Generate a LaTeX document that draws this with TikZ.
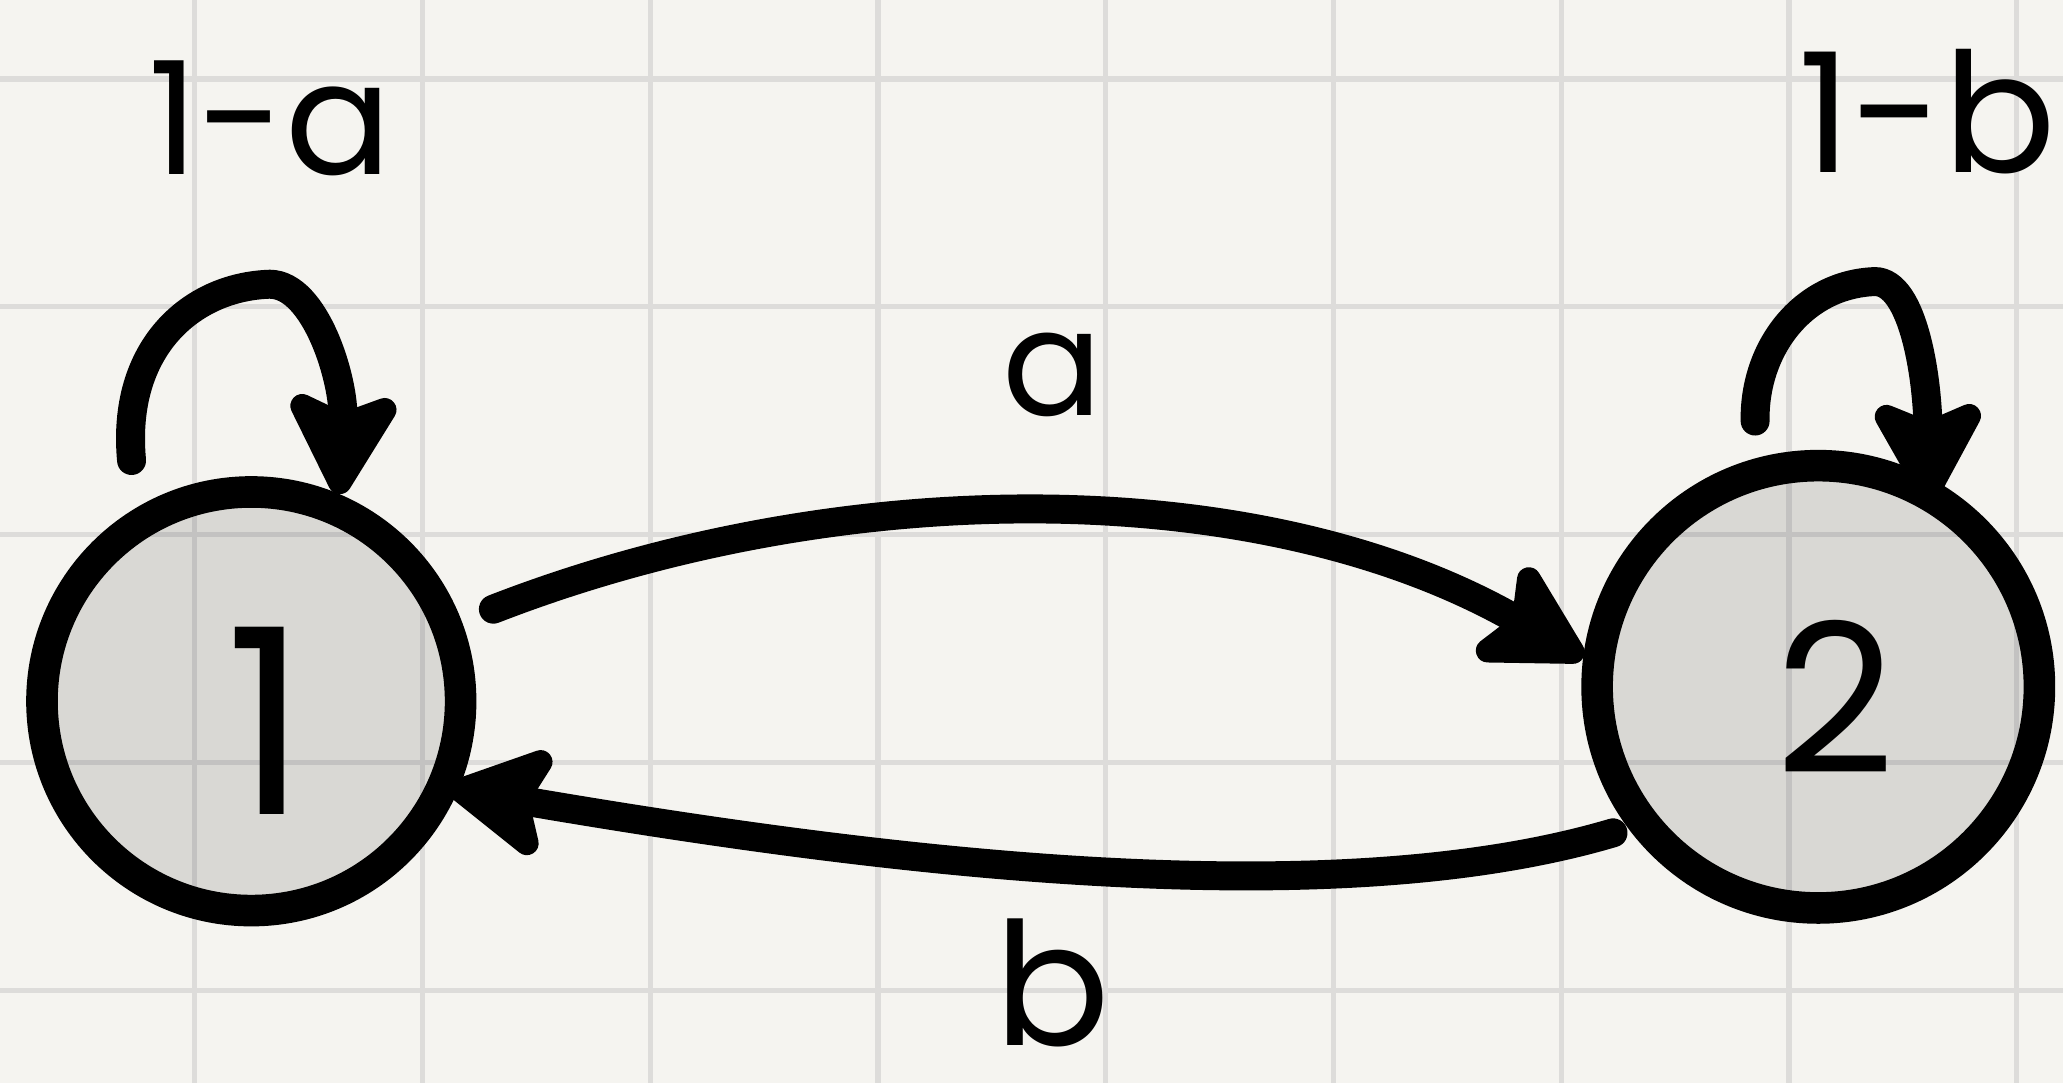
\documentclass[tikz,border=0pt]{standalone}
\usepackage{fontspec}
\setmainfont{Poppins}
\usetikzlibrary{arrows.meta,calc}
\definecolor{paper}{HTML}{F5F4F0}
\definecolor{gridc}{HTML}{DDDCDA}
\newcommand\mysize[1]{\fontsize{#1pt}{#1pt}\selectfont}
\begin{document}
\begin{tikzpicture}[x=0.01cm,y=-0.01cm,
  state/.style={circle, draw=black, line width=0.24cm, fill=black, fill opacity=0.115, text opacity=1, inner sep=0pt},
  conn/.style={line width=0.22cm, line cap=round, -{Stealth[length=0.92cm,width=1.0cm,inset=0.2cm,round,line width=0.22cm]}},
  lbl/.style={inner sep=0pt, text=black}]
\fill[paper] (0,0) rectangle (1568,823);
\useasboundingbox (0,0) rectangle (1568,823);
\foreach \i in {0,...,8} \draw[gridc, line width=0.04cm] ({148+173.1*\i},0) -- ({148+173.1*\i},823);
\foreach \j in {0,...,4} \draw[gridc, line width=0.04cm] (0,{60+173.2*\j}) -- (1568,{60+173.2*\j});
% states
\node[state, minimum size=3.18cm] (s1) at (191,533) {};
\node[state, minimum size=3.36cm] (s2) at (1382,522) {};
\node[lbl, font=\mysize{56}] (t1) at ($(s1)+(12,15)$) {1};
\node[lbl, font=\mysize{45}] (t2) at ($(s2)+(13,8)$) {2};
% connector ends
\coordinate (a0) at ($(s1)+(184,-70)$);
\coordinate (b0) at ($(s2)+(-156,111)$);
\coordinate (b1) at ($(s1)+(150,66)$);
\coordinate (l1) at ($(s1)+(-91,-183)$);
\coordinate (l2) at ($(s2)+(-48,-202)$);
\coordinate (l2e) at ($(s2)+(84,-140)$);
% transitions
\draw[conn] (a0) .. controls (640,360) and (960,360) .. (s2.173);
\draw[conn] (b0) .. controls (1000,700) and (640,650) .. (b1);
\draw[conn] (l1) .. controls (92,265) and (145,218) .. (205,216) .. controls (240,216) and (262,290) .. (s1.67);
\draw[conn] (l2) .. controls (1333,265) and (1370,216) .. (1425,214) .. controls (1455,214) and (1465,290) .. (l2e);
% labels
\node[lbl, font=\mysize{34}] (la) at (205,90) {1-a};
\node[lbl, font=\mysize{36}] (lb) at (1465,85) {1-b};
\node[lbl, font=\mysize{32}] (ea) at (800,285) {a};
\node[lbl, font=\mysize{37}, anchor=north] (eb) at (800,698) {b};
\end{tikzpicture}
\end{document}
